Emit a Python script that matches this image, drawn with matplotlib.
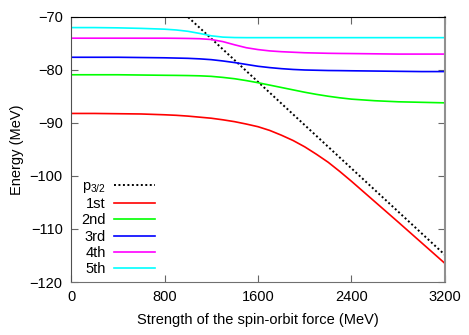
#!/usr/bin/env python3

import matplotlib
matplotlib.use('Agg')
import matplotlib.pyplot as plt

#-------------------------------------------------------------------------------
# values

strength = [0, 200, 400, 600, 800, 900, 1000, 1100, 1200, 1300, 1400, 1500,
            1600, 1700, 1800, 1900, 2000, 2100, 2200, 2300, 2400, 2600, 2800,
            3000, 3200]

e_1st = [-88.2, -88.2, -88.25, -88.3, -88.45, -88.55, -88.7, -88.9, -89.1,
         -89.4, -89.75, -90.2, -90.7, -91.4, -92.3, -93.3, -94.5, -95.9, -97.4,
         -99.15, -101.0, -104.85, -108.7, -112.6, -116.5]
e_2nd = [-80.9, -80.9, -80.9, -80.95, -81.0, -81.02, -81.05, -81.1, -81.2,
         -81.4, -81.65, -82.0, -82.4, -82.85, -83.3, -83.75, -84.2, -84.6,
         -84.95, -85.25, -85.5, -85.8, -86.0, -86.1, -86.2]
e_3rd = [-77.6, -77.6, -77.6, -77.65, -77.7, -77.75, -77.8, -77.9, -78.05,
         -78.3, -78.6, -78.95, -79.3, -79.55, -79.75, -79.9, -80.0, -80.05,
         -80.1, -80.12, -80.15, -80.2, -80.25, -80.3, -80.3]
e_4th = [-74.0, -74.0, -74.0, -74.0, -74.0, -74.02, -74.05, -74.1, -74.25,
         -74.65, -75.25, -75.8, -76.15, -76.4, -76.55, -76.65, -76.75, -76.8,
         -76.85, -76.88, -76.9, -76.95, -77.0, -77.0, -77.0]
e_5th = [-72.0, -72.0, -72.05, -72.15, -72.3, -72.45, -72.7, -73.1, -73.55,
         -73.8, -73.88, -73.9, -73.9, -73.9, -73.9, -73.9, -73.9, -73.9,
         -73.9, -73.9, -73.9, -73.9, -73.9, -73.9, -73.9]

p32_x = [800, 3200]
p32_y = [-65.9, -114.9]

levels = [('1st', e_1st, '#ff0000'),
          ('2nd', e_2nd, '#00ff00'),
          ('3rd', e_3rd, '#0000ff'),
          ('4th', e_4th, '#ff00ff'),
          ('5th', e_5th, '#00ffff')]

#-------------------------------------------------------------------------------

plt.rcParams['font.family'] = ['Liberation Sans', 'DejaVu Sans']
plt.rcParams['mathtext.default'] = 'regular'
plt.rcParams['font.size'] = 10.5

fig = plt.figure(figsize=(4.69, 3.35), dpi=100)
ax = fig.add_axes([0.1514, 0.1582, 0.7974, 0.7911])

ax.plot(p32_x, p32_y, color='black', lw=1.4, linestyle=(0, (1, 1.3)), label=r'p$_{3/2}$')
for name, vals, col in levels:
    ax.plot(strength, vals, color=col, lw=1.2, label=name)

ax.set_xlim(0, 3200)
ax.set_ylim(-120, -70)
ax.set_xticks([0, 800, 1600, 2400, 3200])
ax.set_yticks([-120, -110, -100, -90, -80, -70])
ax.tick_params(direction='in', length=5, width=0.8, top=True, right=True,
               color='#666666', labelsize=10.5, pad=6)

ax.spines['top'].set_color('black')
ax.spines['left'].set_color('#505050')
ax.spines['bottom'].set_color('#707070')
ax.spines['right'].set_color('#909090')
ax.spines['right'].set_linewidth(1.5)

ax.set_xlabel('Strength of the spin-orbit force (MeV)', labelpad=6)
ax.set_ylabel('Energy (MeV)', labelpad=4)

ax.legend(loc='lower left', bbox_to_anchor=(0.0, -0.016), frameon=False,
          markerfirst=False, handlelength=2.8, handletextpad=0.55,
          labelspacing=0.15, borderaxespad=0.3, fontsize=10.5)

plt.savefig('out.png', dpi=100)
